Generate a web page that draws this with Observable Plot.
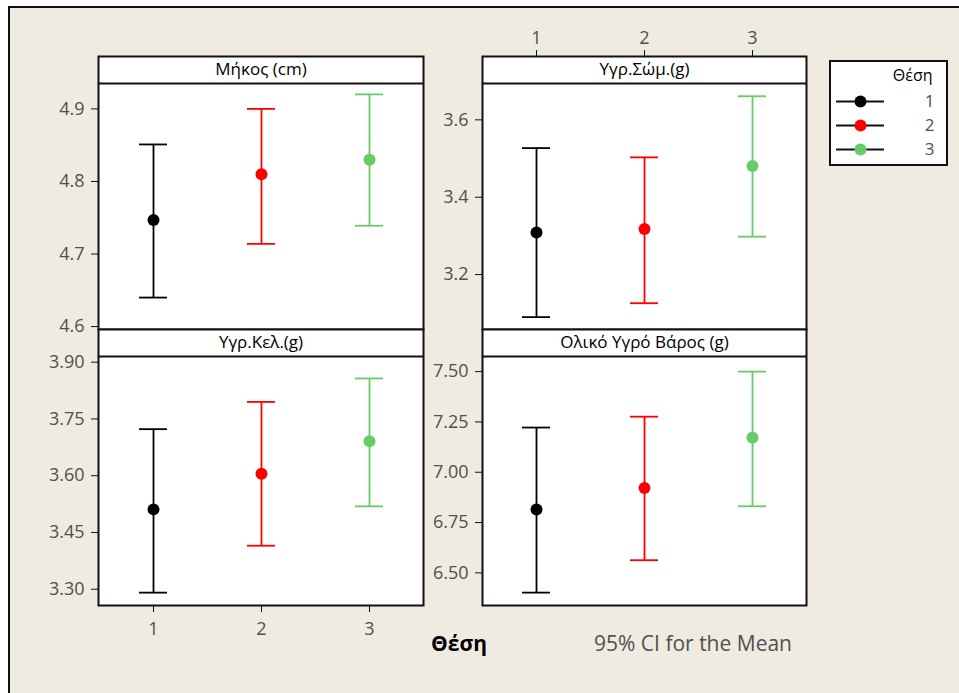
<!DOCTYPE html>
<html>
<head>
<meta charset="utf-8">
<script src="https://cdn.jsdelivr.net/npm/d3@7"></script>
<script src="https://cdn.jsdelivr.net/npm/@observablehq/plot@0.6"></script>
<style>
  html, body { margin: 0; padding: 0; background: #ffffff; }
  #chart { position: relative; width: 959px; height: 693px; overflow: hidden; background: #ffffff; font-family: "Open Sans", sans-serif; }
  #bg { position: absolute; left: 8px; top: 6px; width: 960px; height: 700px; background: #efebe0; border-left: 2px solid #111; border-top: 2px solid #111; }
  .layer { position: absolute; left: 0; top: 0; }
  .lbl { position: absolute; white-space: nowrap; transform: translate(-50%, -50%); }
  #legendBox { position: absolute; left: 829px; top: 60px; width: 119px; height: 106px; box-sizing: border-box; border: 2px solid #111; background: #ffffff; }
</style>
</head>
<body>
<div id="chart">
  <div id="bg"></div>
  <div id="legendBox"></div>
</div>
<script>
// ---- data ----
const groups = ["1", "2", "3"];
const groupColors = ["#000000", "#ff0000", "#66cc66"];
const panelTitles = ["Μήκος (cm)", "Υγρ.Σώμ.(g)", "Υγρ.Κελ.(g)", "Ολικό Υγρό Βάρος (g)"];

const lengthMean  = [4.747, 4.810, 4.830];
const lengthLower = [4.640, 4.714, 4.739];
const lengthUpper = [4.851, 4.900, 4.920];

const bodyMean  = [3.309, 3.318, 3.481];
const bodyLower = [3.090, 3.126, 3.298];
const bodyUpper = [3.527, 3.503, 3.661];

const cellMean  = [3.511, 3.605, 3.691];
const cellLower = [3.291, 3.415, 3.519];
const cellUpper = [3.723, 3.795, 3.857];

const totalMean  = [6.815, 6.922, 7.172];
const totalLower = [6.402, 6.563, 6.831];
const totalUpper = [7.222, 7.276, 7.500];

const lengthTicks = [4.6, 4.7, 4.8, 4.9];
const bodyTicks   = [3.2, 3.4, 3.6];
const cellTicks   = [3.30, 3.45, 3.60, 3.75, 3.90];
const totalTicks  = [6.50, 6.75, 7.00, 7.25, 7.50];

const xLabel = "Θέση";
const noteText = "95% CI for the Mean";
const legendTitle = "Θέση";

// ---- layout ----
const W = 959, H = 693;
const FONT = "'Open Sans', sans-serif";
const GREY = "#505050";

const panels = [
  {title: panelTitles[0], mean: lengthMean, lower: lengthLower, upper: lengthUpper, ticks: lengthTicks, fmt: ".1f",
   domain: [4.596, 4.935], left: 98, right: 423, top: 56, plotTop: 83, bottom: 329, xAxis: null},
  {title: panelTitles[1], mean: bodyMean, lower: bodyLower, upper: bodyUpper, ticks: bodyTicks, fmt: ".1f",
   domain: [3.058, 3.694], left: 482, right: 806, top: 56, plotTop: 83, bottom: 329, xAxis: "top"},
  {title: panelTitles[2], mean: cellMean, lower: cellLower, upper: cellUpper, ticks: cellTicks, fmt: ".2f",
   domain: [3.257, 3.915], left: 98, right: 423, top: 329, plotTop: 356, bottom: 605, xAxis: "bottom"},
  {title: panelTitles[3], mean: totalMean, lower: totalLower, upper: totalUpper, ticks: totalTicks, fmt: ".2f",
   domain: [6.338, 7.575], left: 482, right: 806, top: 329, plotTop: 356, bottom: 605, xAxis: null}
];

const chart = document.getElementById("chart");

for (const p of panels) {
  const data = groups.map((g, i) => ({g, mean: p.mean[i], lower: p.lower[i], upper: p.upper[i]}));
  const marks = [
    Plot.frame({fill: "white"}),
    Plot.ruleX(data, {x: "g", y1: "lower", y2: "upper", stroke: "g", strokeWidth: 1.8}),
    Plot.tickY(data, {x: "g", y: "lower", stroke: "g", strokeWidth: 1.8}),
    Plot.tickY(data, {x: "g", y: "upper", stroke: "g", strokeWidth: 1.8}),
    Plot.dot(data, {x: "g", y: "mean", fill: "g", r: 6}),
    Plot.ruleY([p.domain[1]], {stroke: "#111", strokeWidth: 2}),
    Plot.text([p.title], {frameAnchor: "top", lineAnchor: "middle", dy: 13.5, fontSize: 17, fill: "#000"}),
    Plot.frame({stroke: "#111", strokeWidth: 2}),
    Plot.axisY({ticks: p.ticks, tickFormat: d3.format(p.fmt), tickSize: 7, tickPadding: 7,
                fontSize: 18, stroke: "#111", fill: GREY, label: null})
  ];
  if (p.xAxis === "top") {
    marks.push(Plot.axisX({anchor: "top", tickSize: 7, tickPadding: 6, fontSize: 18, stroke: "#111", fill: GREY, label: null}));
  } else if (p.xAxis === "bottom") {
    marks.push(Plot.axisX({anchor: "bottom", tickSize: 7, tickPadding: 10, fontSize: 18, stroke: "#111", fill: GREY, label: null}));
  }
  const svg = Plot.plot({
    width: W, height: H,
    marginLeft: p.left, marginRight: W - p.right,
    marginTop: p.top, marginBottom: H - p.bottom,
    x: {type: "band", domain: groups, paddingInner: 0.742, paddingOuter: 0.369, label: null, ...(p.xAxis ? {} : {axis: null})},
    y: {domain: p.domain, range: [p.bottom, p.plotTop], label: null},
    color: {domain: groups, range: groupColors},
    style: {background: "transparent", fontFamily: FONT, overflow: "visible"},
    marks
  });
  svg.classList.add("layer");
  chart.appendChild(svg);
}

// ---- legend ----
const legend = Plot.plot({
  width: W, height: H,
  marginLeft: 836, marginRight: W - 884,
  marginTop: 60, marginBottom: H - 166,
  y: {type: "point", domain: groups, range: [101, 149], padding: 0, axis: null},
  color: {domain: groups, range: groupColors},
  style: {background: "transparent", fontFamily: FONT, overflow: "visible"},
  marks: [
    Plot.tickY(groups, {y: d => d, stroke: "#111", strokeWidth: 2}),
    Plot.dot(groups, {y: d => d, fill: d => d, r: 6}),
    Plot.text(groups, {y: d => d, text: d => d, frameAnchor: "right", lineAnchor: "middle", dx: 50, textAnchor: "end", fontSize: 17, fill: GREY}),
    Plot.text([legendTitle], {frameAnchor: "top-right", lineAnchor: "middle", dx: 48, dy: 15, textAnchor: "end", fontSize: 16, fill: "#000"})
  ]
});
legend.classList.add("layer");
chart.appendChild(legend);

// ---- bottom labels ----
const l1 = document.createElement("div");
l1.className = "lbl";
l1.style.cssText = "left:459px;top:643px;font-size:21px;font-weight:bold;color:#000;";
l1.textContent = xLabel;
chart.appendChild(l1);

const l2 = document.createElement("div");
l2.className = "lbl";
l2.style.cssText = "left:693px;top:643px;font-size:21px;color:" + GREY + ";";
l2.textContent = noteText;
chart.appendChild(l2);
</script>
</body>
</html>
